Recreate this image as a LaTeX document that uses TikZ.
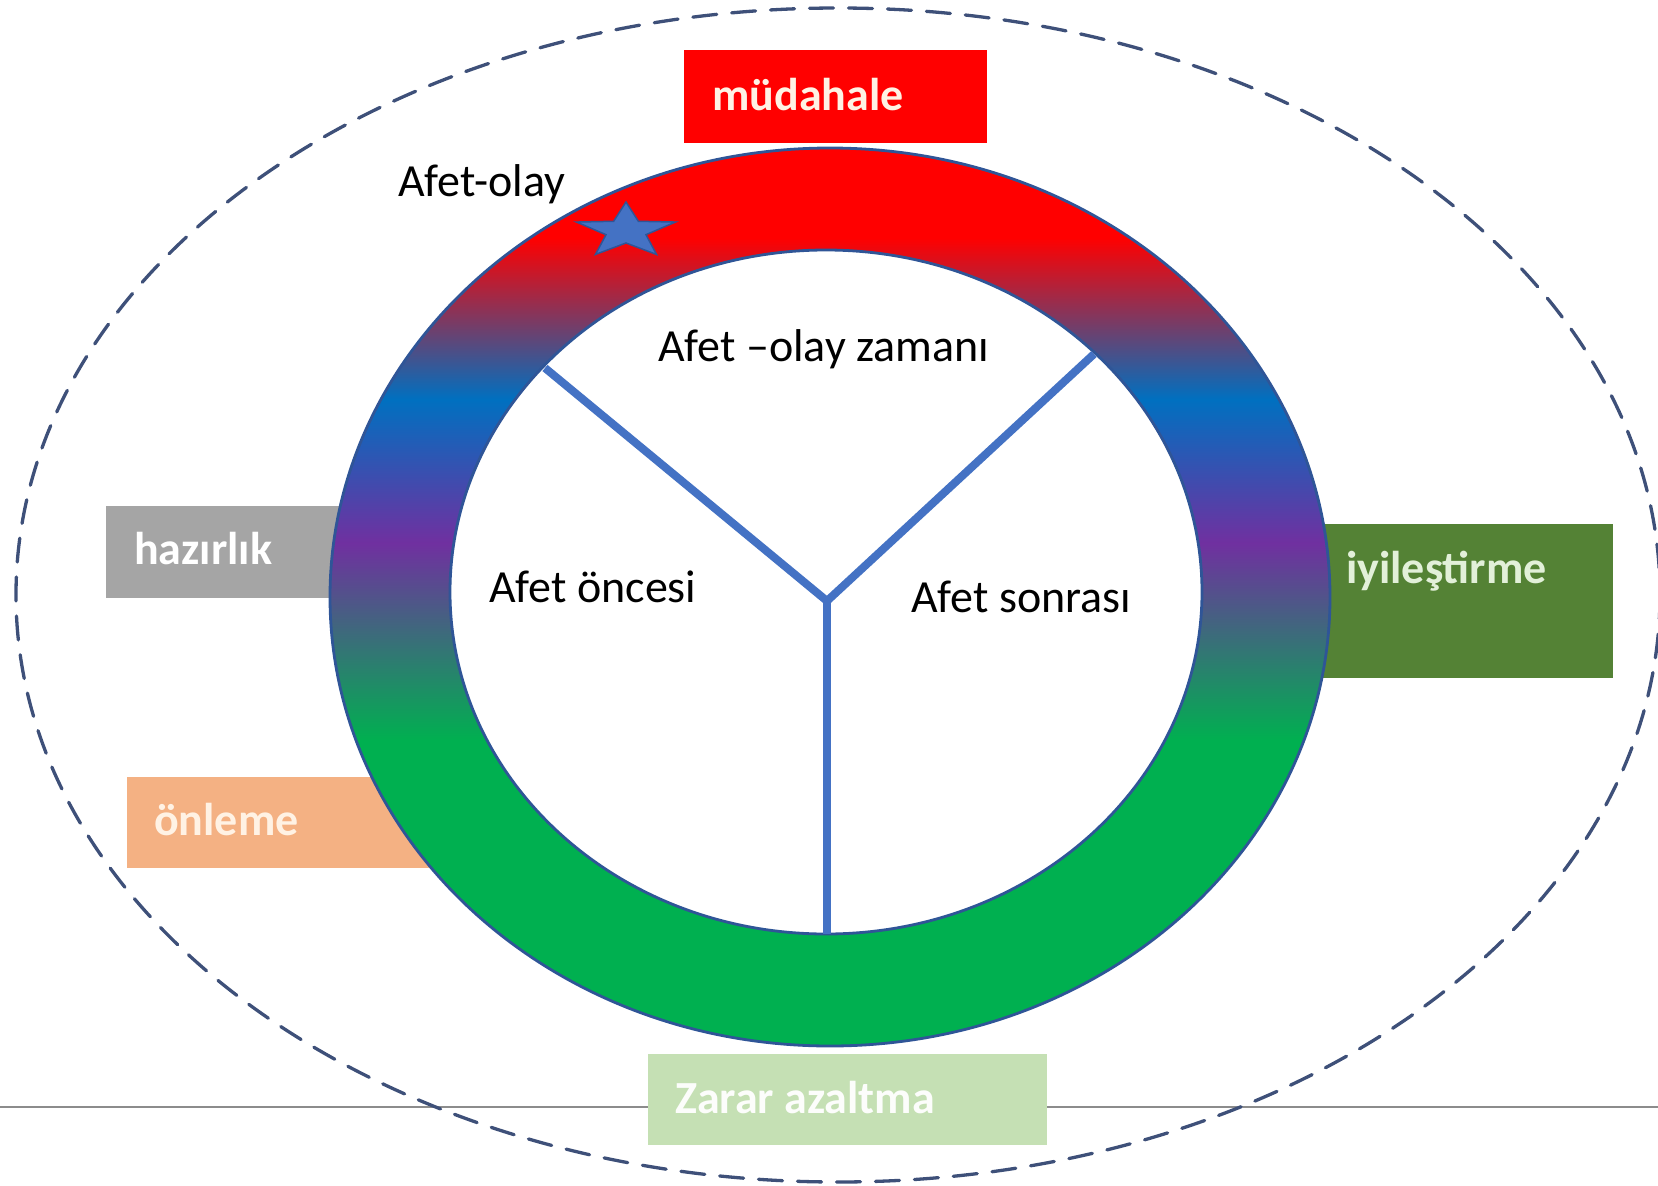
\documentclass[tikz,border=0pt]{standalone}
\usepackage{fontspec}
\setmainfont{Carlito}
\definecolor{rRed}{HTML}{FF0000}
\definecolor{rBlue}{HTML}{0070C0}
\definecolor{rPurple}{HTML}{7030A0}
\definecolor{rGreen}{HTML}{00B050}
\definecolor{edgeBlue}{HTML}{2F5597}
\definecolor{spokeBlue}{HTML}{4472C4}
\definecolor{dashCol}{HTML}{3E5079}
\definecolor{boxRed}{HTML}{FF0000}
\definecolor{boxGray}{HTML}{A5A5A5}
\definecolor{boxOrange}{HTML}{F4B183}
\definecolor{boxGreen}{HTML}{548235}
\definecolor{boxLight}{HTML}{C5E0B4}
\definecolor{creamText}{HTML}{FFF2E4}
\definecolor{paleGreenText}{HTML}{E2F0D9}
\definecolor{lineGray}{HTML}{8C8C8C}
\pgfdeclareverticalshading{ringshade}{100bp}{color(0bp)=(rGreen); color(42bp)=(rGreen); color(53bp)=(rPurple); color(61bp)=(rBlue); color(70bp)=(rRed); color(100bp)=(rRed)}
\begin{document}
\begin{tikzpicture}[x=1pt,y=-1pt,
  lbl/.style={font=\fontsize{46}{55}\selectfont, text=black, inner sep=0pt, anchor=base west},
  blbl/.style={font=\fontsize{46}{55}\selectfont\bfseries, text=white, inner sep=0pt, anchor=base west},
  boxn/.style={rectangle, inner sep=0pt, anchor=north west, draw=none},
  spokeline/.style={draw=spokeBlue, line width=8pt},
  ringedge/.style={draw=edgeBlue, line width=2.8pt}]
\useasboundingbox (0,0) rectangle (1658,1186);
% horizontal grey rule
\coordinate (hl) at (0,1107);
\coordinate (hr) at (1658,1107);
\draw[lineGray, line width=1.6pt] (hl) -- (hr);
% dashed outer ellipse
\coordinate (oc) at (838,595);
\draw[dashCol, line width=3.3pt, line cap=round, dash pattern=on 24pt off 15pt] (oc) ellipse [x radius=822, y radius=587];
% boxes
\node[boxn, fill=boxRed, minimum width=303pt, minimum height=93pt] (bMud) at (684,50) {};
\node[boxn, fill=boxGray, minimum width=274pt, minimum height=92pt] (bHaz) at (106,506) {};
\node[boxn, fill=boxOrange, minimum width=333pt, minimum height=91pt] (bOnl) at (127,777) {};
\node[boxn, fill=boxGreen, minimum width=333pt, minimum height=154pt] (bIyi) at (1280,524) {};
\node[boxn, fill=boxLight, minimum width=399pt, minimum height=91pt] (bZar) at (648,1054) {};
% ring
\coordinate (rc) at (830,597);
\coordinate (ic) at (826,592);
\shadedraw[shading=ringshade, ringedge] (rc) ellipse [x radius=500, y radius=449];
\filldraw[fill=white, ringedge] (ic) ellipse [x radius=376, y radius=342];
% spokes
\coordinate (hub) at (827,601);
\coordinate (endL) at (545,368);
\coordinate (endR) at (1094,354);
\coordinate (endB) at (827,934);
\draw[spokeline, line join=miter] (endL) -- (hub) -- (endR);
\draw[spokeline] (hub) -- (endB);
% star
\filldraw[fill=spokeBlue, draw=edgeBlue, line width=1.5pt, shift={(626,231)}]
  (-90:52 and 29) -- (-54:21 and 12) -- (-18:52 and 29) -- (18:21 and 12) --
  (54:52 and 29) -- (90:21 and 12) -- (126:52 and 29) -- (162:21 and 12) --
  (198:52 and 29) -- (234:21 and 12) -- cycle;
% texts
\node[lbl] (tAO) at (398,196) {Afet-olay};
\node[lbl] (tZam) at (658,361) {Afet –olay zamanı};
\node[lbl] (tOnc) at (489,602) {Afet öncesi};
\node[lbl] (tSon) at (911,612) {Afet sonrası};
\node[blbl, text=creamText] (tMud) at (712,110) {müdahale};
\node[blbl] (tHaz) at (134,564) {hazırlık};
\node[blbl, text=creamText] (tOnl) at (154,835) {önleme};
\node[blbl, text=paleGreenText] (tIyi) at (1346,583) {iyileştirme};
\node[blbl, text=white!95!boxLight] (tZar) at (675,1113) {Zarar azaltma};
\end{tikzpicture}
\end{document}
